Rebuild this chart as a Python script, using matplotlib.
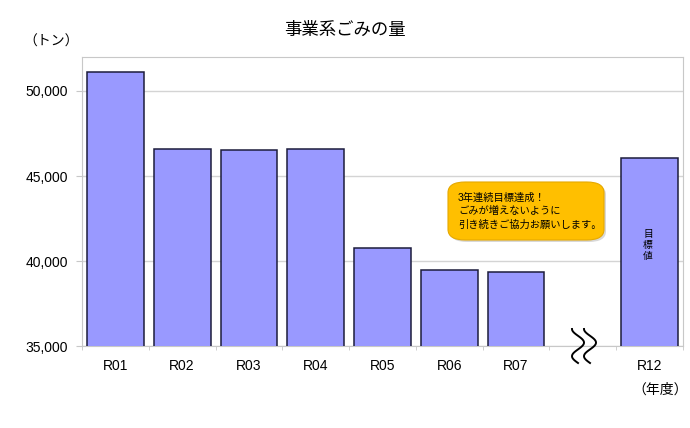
import numpy as np
import matplotlib.pyplot as plt
from matplotlib.patches import FancyBboxPatch

plt.rcParams['font.family'] = ['Liberation Sans', 'Noto Sans CJK JP']

categories = ["R01", "R02", "R03", "R04", "R05", "R06", "R07", "", "R12"]
values = [51100, 46600, 46550, 46600, 40750, 39480, 39350, np.nan, 46050]
y_ticks = [35000, 40000, 45000, 50000]

W, H = 690, 428
fig = plt.figure(figsize=(W / 100, H / 100), dpi=100)


def px(x, y):
    return x / W, 1 - y / H


ax = fig.add_axes([82 / W, 1 - 346 / H, (683 - 82) / W, (346 - 57) / H])
x = np.arange(len(categories))
ax.bar(x, values, width=0.85, color="#9999FF", edgecolor="#1c1c3c", linewidth=1.1, zorder=3)

ax.set_xlim(-0.5, len(categories) - 0.5)
ax.set_ylim(35000, 52000)
ax.set_yticks(y_ticks)
ax.set_yticklabels([f"{v:,}" for v in y_ticks], fontsize=10)
ax.set_xticks(x)
ax.set_xticklabels(categories, fontsize=10)
ax.set_xticks(np.arange(len(categories) + 1) - 0.5, minor=True)
ax.tick_params(axis="x", which="major", length=0, pad=9)
ax.tick_params(axis="x", which="minor", length=3, color="#c8c8c8")
ax.tick_params(axis="y", length=4, color="#c8c8c8", pad=6)
ax.grid(axis="y", color="#d4d4d4", linewidth=1, zorder=0)
for s in ax.spines.values():
    s.set_color("#c8c8c8")

fig.text(*px(345, 30), "事業系ごみの量", ha="center", va="center", fontsize=12.5)
fig.text(*px(51, 42), "（トン）", ha="center", va="center", fontsize=10)
fig.text(*px(660, 390), "（年度）", ha="center", va="center", fontsize=10)

# target label inside R12 bar
fig.text(*px(648, 245), "目\n標\n値", ha="center", va="center", fontsize=7, linespacing=1.1)

# callout box
x0, y0 = px(448, 240)
x1, y1 = px(604, 182)
shadow = FancyBboxPatch((x0 + 2 / W, y0 - 2 / H), x1 - x0, y1 - y0,
                        boxstyle="round,pad=0,rounding_size=0.025",
                        transform=fig.transFigure, fc="#d8d8d8", ec="none", zorder=4)
box = FancyBboxPatch((x0, y0), x1 - x0, y1 - y0,
                     boxstyle="round,pad=0,rounding_size=0.025",
                     transform=fig.transFigure, fc="#FFBF00", ec="#e5a800", lw=0.8, zorder=5)
fig.patches.extend([shadow, box])
fig.text(*px(458, 211), "3年連続目標達成！\nごみが増えないように\n引き続きご協力お願いします。",
         ha="left", va="center", fontsize=7.4, linespacing=1.4, zorder=6)

# axis break mark
t = np.linspace(0, 1, 60)
for dx in (0, 12):
    bx = 578 + dx + 6 * np.sin(-np.pi / 2 + 2.5 * np.pi * t)
    by = 329 + 34 * t
    fig.lines.append(plt.Line2D(bx / W, 1 - by / H, transform=fig.transFigure,
                                color="black", lw=1.4, zorder=7))

fig.savefig("out.png", dpi=100)
